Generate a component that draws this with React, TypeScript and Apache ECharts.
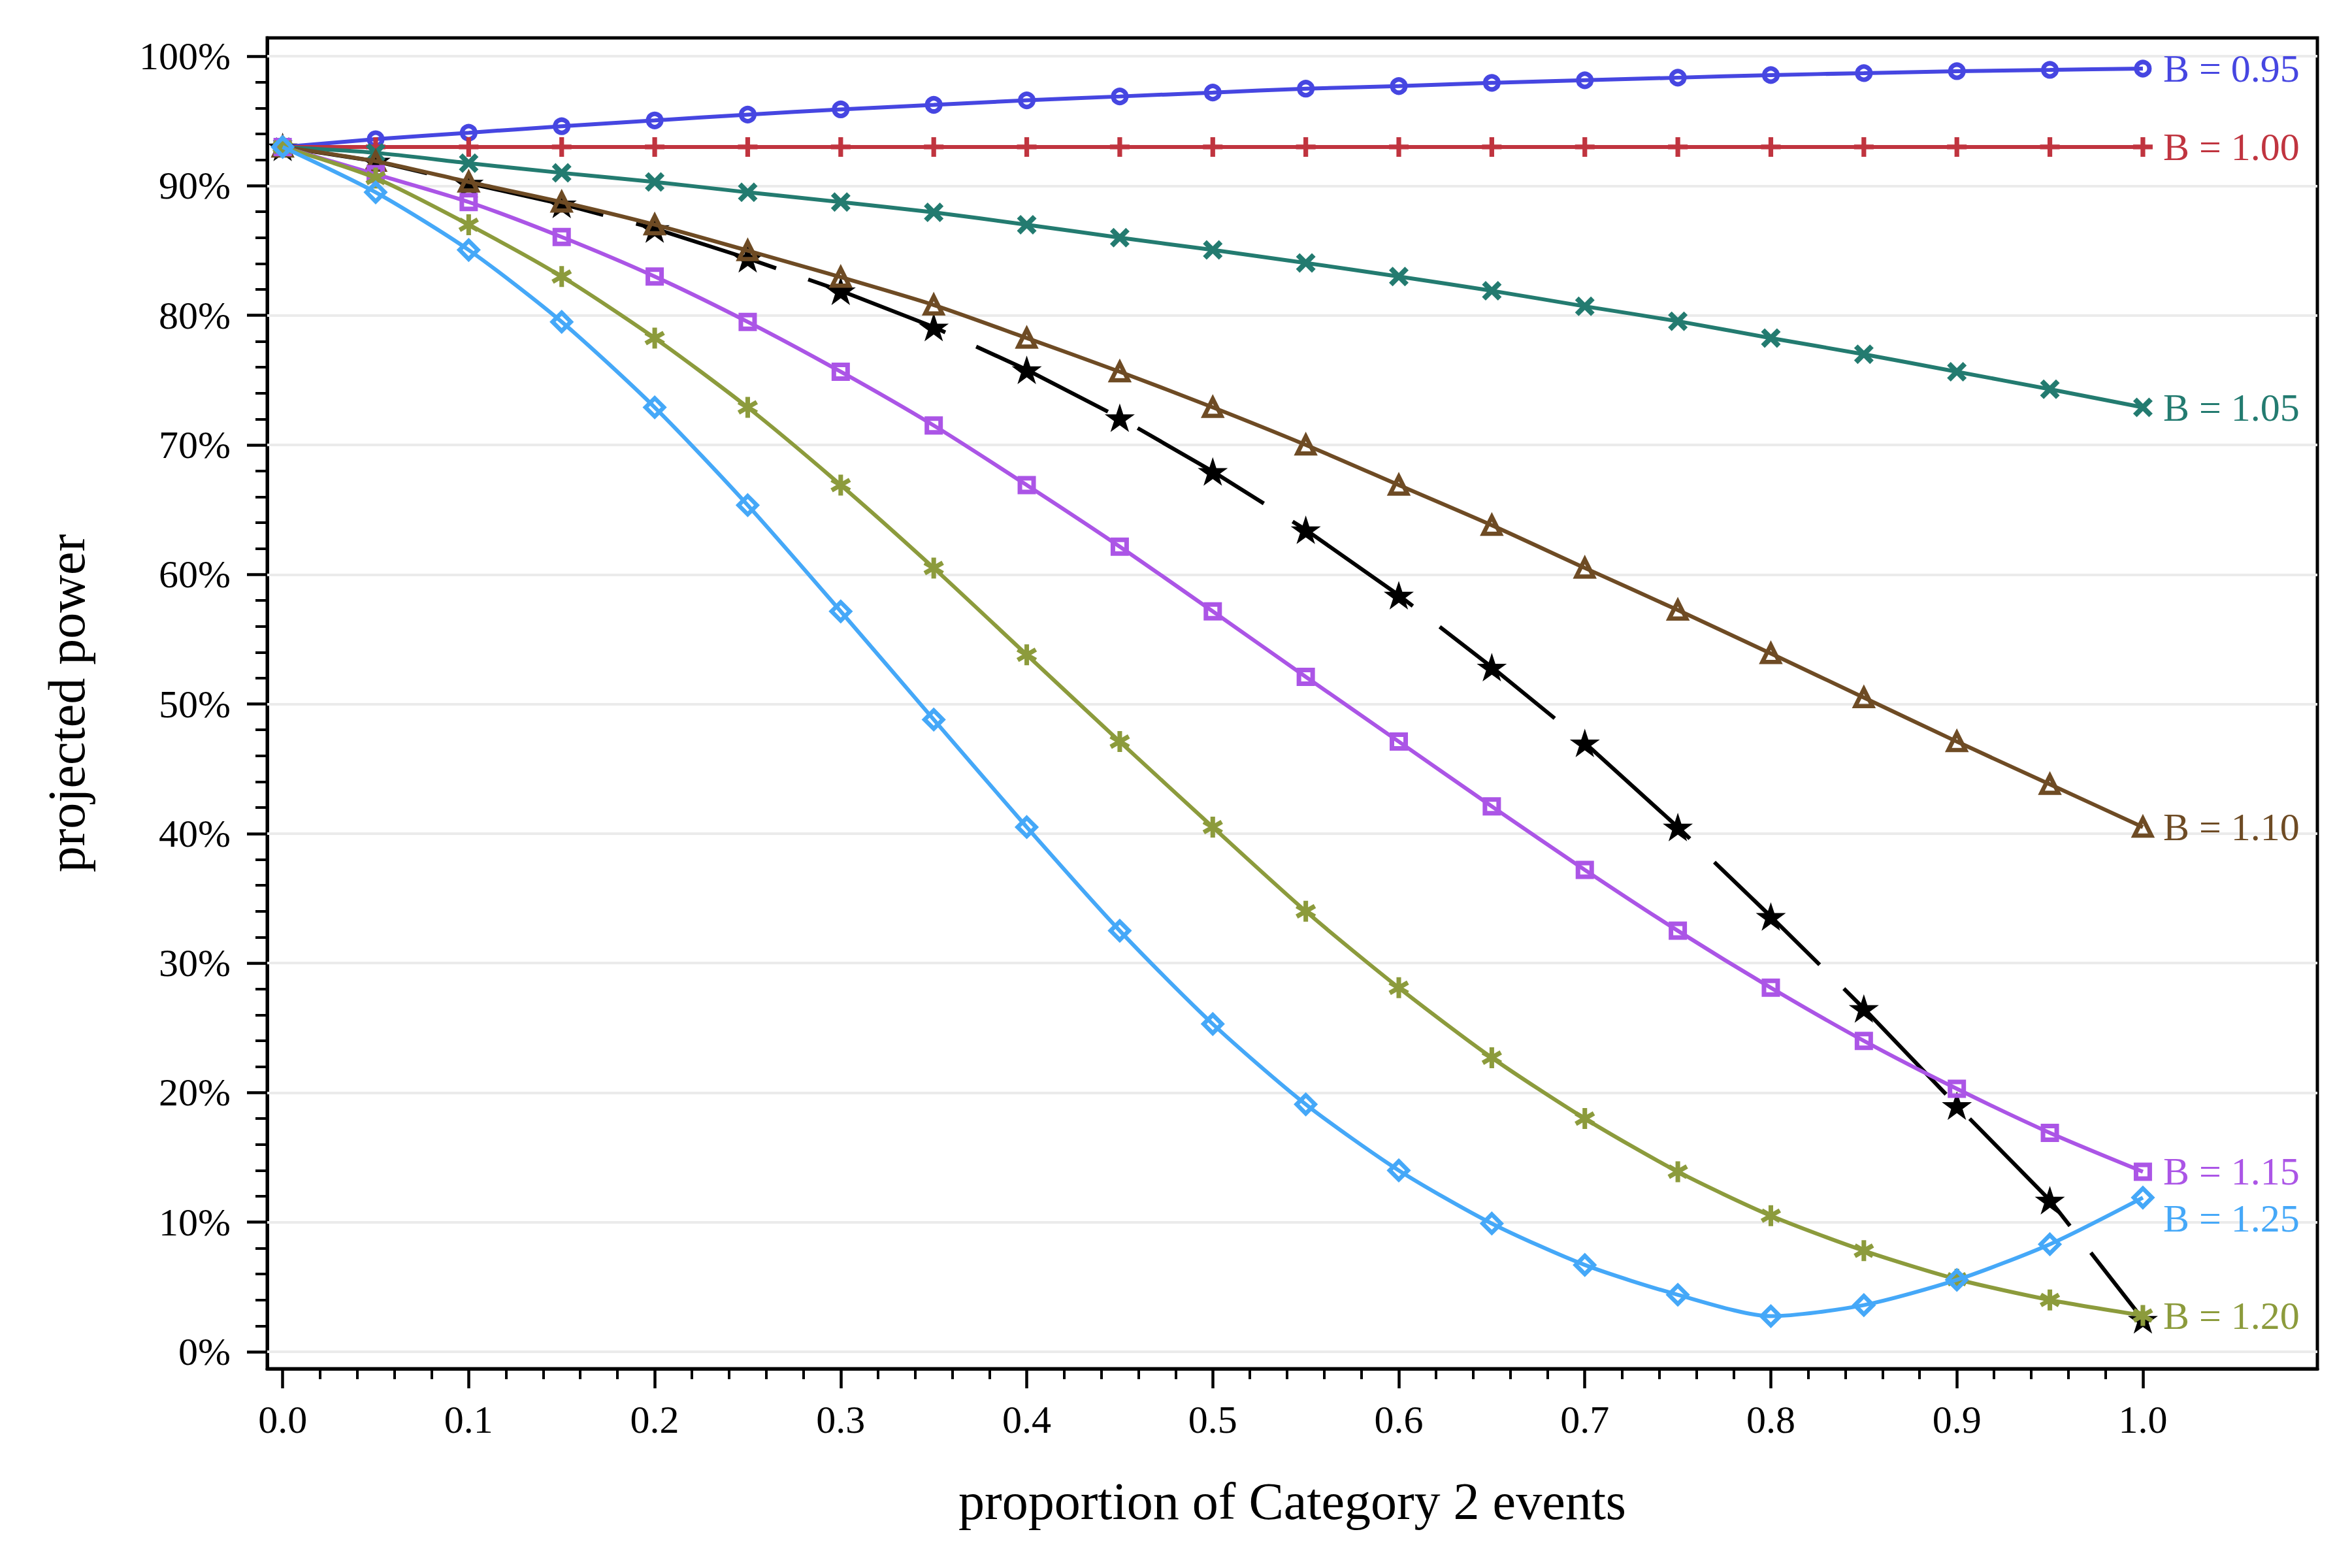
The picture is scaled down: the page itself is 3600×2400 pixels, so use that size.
import React, { useEffect, useRef } from "react";
import * as echarts from "echarts";

// ---------- data ----------
const xValues = [0, 0.05, 0.1, 0.15, 0.2, 0.25, 0.3, 0.35, 0.4, 0.45, 0.5, 0.55, 0.6, 0.65, 0.7, 0.75, 0.8, 0.85, 0.9, 0.95, 1.0];

const powerB095 = [93.0, 93.6, 94.1, 94.6, 95.05, 95.5, 95.9, 96.25, 96.6, 96.9, 97.2, 97.5, 97.7, 97.95, 98.15, 98.35, 98.55, 98.7, 98.85, 98.95, 99.05];
const powerB100 = [93.0, 93.0, 93.0, 93.0, 93.0, 93.0, 93.0, 93.0, 93.0, 93.0, 93.0, 93.0, 93.0, 93.0, 93.0, 93.0, 93.0, 93.0, 93.0, 93.0, 93.0];
const powerB105 = [93.0, 92.55, 91.75, 91.0, 90.3, 89.5, 88.75, 87.95, 87.0, 86.0, 85.05, 84.05, 83.0, 81.9, 80.7, 79.55, 78.25, 77.0, 75.65, 74.3, 72.9];
const powerB110 = [93.0, 91.9, 90.3, 88.75, 87.0, 85.0, 82.95, 80.8, 78.25, 75.65, 72.9, 70.0, 66.9, 63.8, 60.5, 57.25, 53.9, 50.5, 47.1, 43.8, 40.5];
const powerB115 = [93.0, 90.9, 88.75, 86.05, 83.0, 79.5, 75.65, 71.5, 66.9, 62.15, 57.15, 52.1, 47.1, 42.1, 37.2, 32.5, 28.1, 24.0, 20.3, 16.9, 13.9];
const powerB120 = [93.0, 90.6, 87.0, 83.0, 78.25, 72.9, 66.9, 60.5, 53.8, 47.1, 40.5, 34.0, 28.1, 22.7, 18.0, 13.9, 10.5, 7.8, 5.6, 4.0, 2.8];
const powerB125 = [93.0, 89.5, 85.05, 79.5, 72.9, 65.35, 57.15, 48.8, 40.5, 32.5, 25.3, 19.1, 14.0, 9.9, 6.7, 4.4, 2.75, 3.6, 5.55, 8.3, 11.9];
const powerStar = [93.0, 91.9, 90.2, 88.6, 86.7, 84.4, 81.9, 79.1, 75.8, 72.1, 67.95, 63.45, 58.4, 52.85, 47.0, 40.5, 33.6, 26.5, 19.0, 11.7, 2.5];

const xMajorTicks = [0, 0.1, 0.2, 0.3, 0.4, 0.5, 0.6, 0.7, 0.8, 0.9, 1.0];
const xMinorTicks = [
  0.02, 0.04, 0.06, 0.08, 0.12, 0.14, 0.16, 0.18, 0.22, 0.24, 0.26, 0.28,
  0.32, 0.34, 0.36, 0.38, 0.42, 0.44, 0.46, 0.48, 0.52, 0.54, 0.56, 0.58,
  0.62, 0.64, 0.66, 0.68, 0.72, 0.74, 0.76, 0.78, 0.82, 0.84, 0.86, 0.88,
  0.92, 0.94, 0.96, 0.98,
];
const yMajorTicks = [0, 10, 20, 30, 40, 50, 60, 70, 80, 90, 100];
const yMinorTicks = [
  2, 4, 6, 8, 12, 14, 16, 18, 22, 24, 26, 28, 32, 34, 36, 38, 42, 44, 46, 48,
  52, 54, 56, 58, 62, 64, 66, 68, 72, 74, 76, 78, 82, 84, 86, 88, 92, 94, 96, 98,
];

const seriesLabels = ["B = 0.95", "B = 1.00", "B = 1.05", "B = 1.10", "B = 1.15", "B = 1.20", "B = 1.25"];

const xTitle = "proportion of Category 2 events";
const yTitle = "projected power";

// ---------- styling helpers ----------
const FONT = "Liberation Serif";

function barsPath(anglesDeg: number[], halfT: number): string {
  let d = "path://";
  for (const a of anglesDeg) {
    const r = (a * Math.PI) / 180;
    const c = Math.cos(r);
    const s = Math.sin(r);
    const pts = [
      [-1, -halfT],
      [1, -halfT],
      [1, halfT],
      [-1, halfT],
    ].map(([x, y]) => [x * c - y * s, x * s + y * c]);
    d += "M" + pts.map((p) => p[0].toFixed(4) + " " + p[1].toFixed(4)).join("L") + "Z";
  }
  return d;
}

function starPath(): string {
  const pts: string[] = [];
  for (let i = 0; i < 10; i++) {
    const ang = ((-90 + i * 36) * Math.PI) / 180;
    const r = i % 2 === 0 ? 1 : 0.382;
    pts.push((r * Math.cos(ang)).toFixed(4) + " " + (r * Math.sin(ang)).toFixed(4));
  }
  return "path://M" + pts.join("L") + "Z";
}

const PLUS = barsPath([0, 90], 0.24);
const CROSS = barsPath([45, 135], 0.23);
const ASTER = barsPath([90, 30, -30], 0.22);
const STAR = starPath();

type Def = {
  values: number[];
  color: string;
  symbol: string;
  size: number;
  hollow: boolean;
  bw: number;
  label: string | null;
  dy: number;
  smooth: number | boolean;
  dash?: number[];
};

const defs: Def[] = [
  { values: powerStar, color: "#000000", symbol: STAR, size: 46, hollow: false, bw: 0, label: null, dy: 0, smooth: false, dash: [225, 52] },
  { values: powerB095, color: "#4646e1", symbol: "circle", size: 20, hollow: true, bw: 7, label: seriesLabels[0], dy: 0, smooth: 0.25 },
  { values: powerB100, color: "#c0343f", symbol: PLUS, size: 30, hollow: false, bw: 0, label: seriesLabels[1], dy: 0, smooth: false },
  { values: powerB105, color: "#237b70", symbol: CROSS, size: 30, hollow: false, bw: 0, label: seriesLabels[2], dy: 0, smooth: 0.25 },
  { values: powerB110, color: "#6e4b24", symbol: "triangle", size: 26, hollow: true, bw: 6.5, label: seriesLabels[3], dy: 0, smooth: 0.25 },
  { values: powerB115, color: "#ab55e6", symbol: "rect", size: 21, hollow: true, bw: 7, label: seriesLabels[4], dy: 0, smooth: 0.25 },
  { values: powerB120, color: "#8c9b3c", symbol: ASTER, size: 32, hollow: false, bw: 0, label: seriesLabels[5], dy: 0, smooth: 0.25 },
  { values: powerB125, color: "#45a8f8", symbol: "diamond", size: 28, hollow: true, bw: 6.5, label: seriesLabels[6], dy: 32, smooth: 0.25 },
];

export default function App() {
  const ref = useRef<HTMLDivElement>(null);

  useEffect(() => {
    if (!ref.current) return;
    const chart = echarts.init(ref.current, undefined, { renderer: "svg" });

    const series: any[] = defs.map((d, i) => {
      const s: any = {
        type: "line",
        z: 2 + i,
        data: xValues.map((x, k) => [x, d.values[k]]),
        smooth: d.smooth,
        symbol: d.symbol,
        symbolSize: d.size,
        symbolKeepAspect: true,
        showSymbol: true,
        showAllSymbol: true,
        silent: true,
        lineStyle: {
          color: d.color,
          width: 6,
          type: d.dash ? d.dash : "solid",
        },
        itemStyle: d.hollow
          ? { color: "rgba(255,255,255,0)", borderColor: d.color, borderWidth: d.bw }
          : { color: d.color, borderWidth: 0 },
        emphasis: { disabled: true },
      };
      if (d.label) {
        s.endLabel = {
          show: true,
          formatter: d.label,
          color: d.color,
          fontSize: 60,
          fontFamily: FONT,
          distance: 31,
          offset: [0, d.dy],
        };
      }
      if (i === 0) {
        s.markLine = {
          silent: true,
          z: 1,
          symbol: ["none", "none"],
          label: { show: false },
          lineStyle: { color: "#ebebeb", width: 4, type: "solid" },
          emphasis: { disabled: true },
          data: yMajorTicks.map((v) => ({ yAxis: v })),
        };
      }
      return s;
    });

    const xMin = -0.0083;
    const xMax = 1.0938;
    const yMin = -1.31;
    const yMax = 101.42;

    const option: any = {
      animation: false,
      backgroundColor: "#ffffff",
      textStyle: { fontFamily: FONT },
      grid: {
        left: 409,
        right: 53,
        top: 58,
        bottom: 305,
        containLabel: false,
        outerBoundsMode: "none",
        show: true,
        borderColor: "#000000",
        borderWidth: 5,
        backgroundColor: "transparent",
      },
      xAxis: [
        {
          type: "value",
          min: xMin,
          max: xMax,
          position: "bottom",
          axisLine: { show: true, onZero: false, lineStyle: { color: "#000", width: 5 } },
          axisTick: { show: true, inside: false, length: 30, lineStyle: { color: "#000", width: 4.5 }, customValues: xMajorTicks },
          axisLabel: {
            show: true,
            customValues: xMajorTicks,
            formatter: (v: number) => v.toFixed(1),
            fontSize: 60,
            color: "#000",
            margin: 48,
            fontFamily: FONT,
          },
          splitLine: { show: false },
          name: xTitle,
          nameLocation: "middle",
          nameGap: 163,
          nameTextStyle: { fontSize: 80, color: "#000", fontFamily: FONT },
        },
        {
          type: "value",
          min: xMin,
          max: xMax,
          position: "bottom",
          offset: 0,
          axisLine: { show: false, onZero: false },
          axisTick: { show: true, inside: false, length: 16, lineStyle: { color: "#000", width: 4 }, customValues: xMinorTicks },
          axisLabel: { show: false },
          splitLine: { show: false },
        },
      ],
      yAxis: [
        {
          type: "value",
          min: yMin,
          max: yMax,
          position: "left",
          axisLine: { show: true, onZero: false, lineStyle: { color: "#000", width: 5 } },
          axisTick: { show: true, inside: false, length: 31, lineStyle: { color: "#000", width: 4.5 }, customValues: yMajorTicks },
          axisLabel: {
            show: true,
            customValues: yMajorTicks,
            formatter: (v: number) => Math.round(v) + "%",
            fontSize: 60,
            color: "#000",
            margin: 56,
            fontFamily: FONT,
          },
          splitLine: { show: false },
          name: yTitle,
          nameLocation: "middle",
          nameGap: 267,
          nameRotate: 90,
          nameTextStyle: { fontSize: 80, color: "#000", fontFamily: FONT },
        },
        {
          type: "value",
          min: yMin,
          max: yMax,
          position: "left",
          offset: 0,
          axisLine: { show: false, onZero: false },
          axisTick: { show: true, inside: false, length: 18, lineStyle: { color: "#000", width: 4 }, customValues: yMinorTicks },
          axisLabel: { show: false },
          splitLine: { show: false },
        },
      ],
      series,
    };

    chart.setOption(option);
    return () => chart.dispose();
  }, []);

  return (
    <div
      ref={ref}
      style={{ position: "fixed", left: 0, top: 0, width: "3600px", height: "2400px", background: "#fff" }}
    />
  );
}
